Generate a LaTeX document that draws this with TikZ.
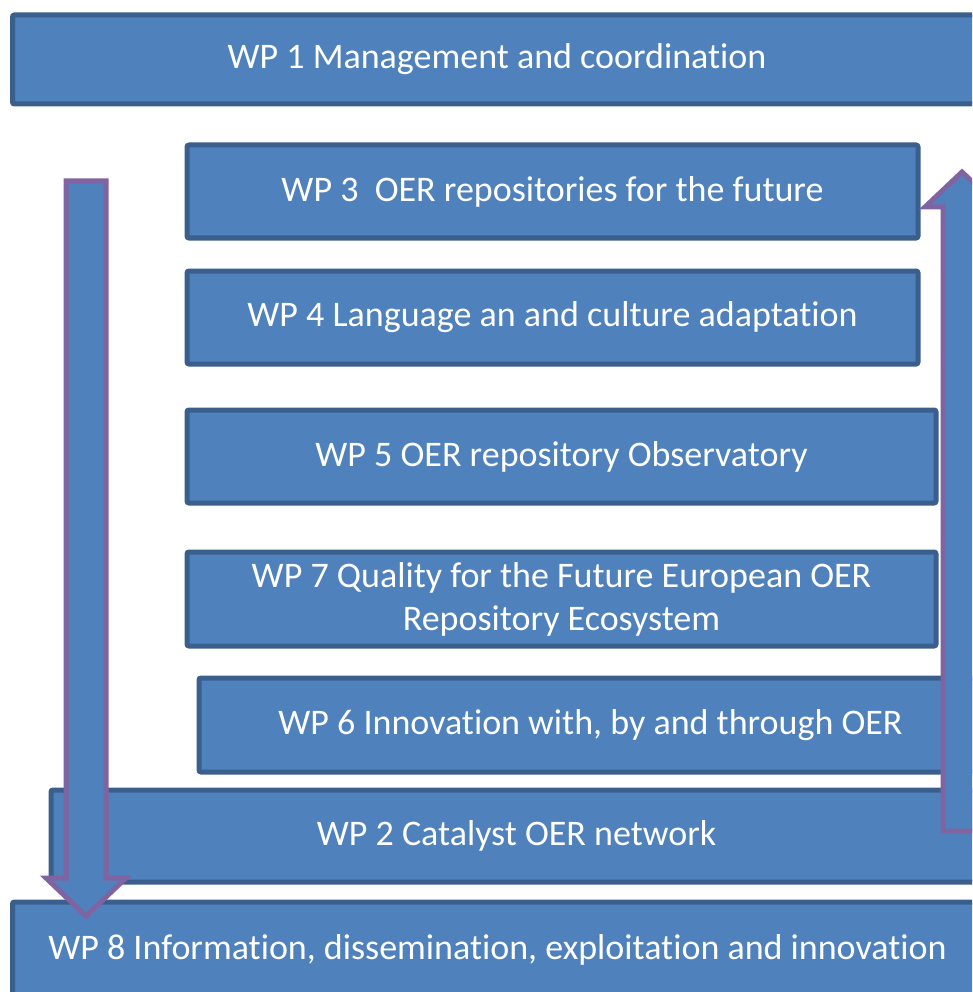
\documentclass[tikz,border=0pt]{standalone}
\usepackage{fontspec}
\setmainfont{Carlito}[Ligatures=NoCommon]
\usetikzlibrary{positioning}
\definecolor{wpblue}{HTML}{4F81BD}
\definecolor{wpborder}{HTML}{3A5F8C}
\definecolor{flowpurple}{HTML}{8064A2}

\begin{document}
\begin{tikzpicture}[x=1pt, y=-1pt,
  wp/.style={rectangle, draw=wpborder, fill=wpblue, line width=5pt, rounded corners=2pt, text=white, align=center, inner sep=0pt, anchor=north west, font=\fontsize{36}{43}\selectfont},
  flow/.style={draw=flowpurple, fill=wpblue, line width=5pt, line join=miter}]

\useasboundingbox (0,0) rectangle (972,992);
\clip (0,0) rectangle (972,992);

\node[wp, minimum width=969, minimum height=89] (wp1) at (10,12.5) {WP 1 Management and coordination};
\node[wp, minimum width=731, minimum height=93] (wp3) at (184.5,142.5) {WP 3\ \ OER repositories for the future};
\node[wp, minimum width=731, minimum height=93] (wp4) at (184.5,268.5) {WP 4 Language an and culture adaptation};
\node[wp, minimum width=749, minimum height=93] (wp5) at (184.5,407.5) {WP 5 OER repository Observatory};
\node[wp, minimum width=749, minimum height=94] (wp7) at (184.5,549.5) {WP 7 Quality for the Future European OER\\Repository Ecosystem};
\node[wp, minimum width=783, minimum height=94] (wp6) at (196.5,675.5) {WP 6 Innovation with, by and through OER};
\node[wp, minimum width=931, minimum height=92] (wp2) at (48.5,787.5) {WP 2 Catalyst OER network};
\node[wp, minimum width=970, minimum height=96] (wp8) at (10,899.5) {WP 8 Information, dissemination, exploitation and innovation};

% flow down to WP 8
\draw[flow] (66,181) -- (106,181) -- (106,878) -- (126,878) -- (86,916) -- (46,878) -- (66,878) -- cycle;
% flow back up
\draw[flow] (943,831) -- (943,207) -- (925,207) -- (962,172) -- (999,207) -- (981,207) -- (981,831) -- cycle;

\end{tikzpicture}
\end{document}
